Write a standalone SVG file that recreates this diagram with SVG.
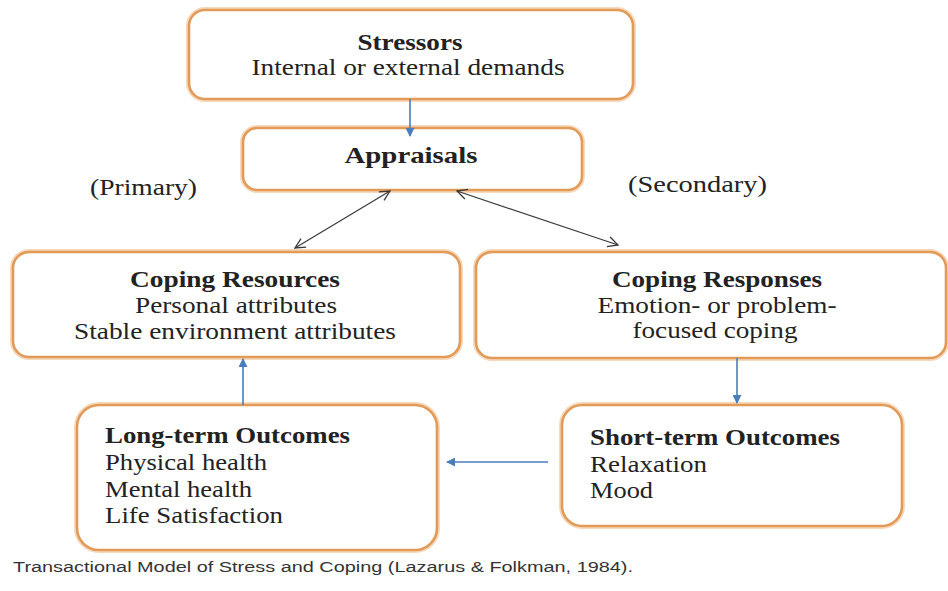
<svg xmlns="http://www.w3.org/2000/svg" width="948" height="591" viewBox="0 0 948 591">
<style>
.box{fill:#fff;stroke:#E39A57;stroke-width:2.6}
.glow{fill:none;stroke:#F6D9BC;stroke-width:6}
.t{font-family:"Liberation Serif","Times New Roman",serif;font-size:23px;fill:#222}
.b{font-weight:bold}
.cap{font-family:"Liberation Sans",Arial,sans-serif;font-size:14px;fill:#333}
.blue{stroke:#4A7EBB;stroke-width:1.6;fill:none}
.dark{stroke:#3a3a3a;stroke-width:1.2;fill:none}
</style>
<defs>
<marker id="bh" viewBox="0 0 10 10" refX="9" refY="5" markerWidth="9" markerHeight="9" markerUnits="userSpaceOnUse" orient="auto">
<path d="M0,0 L10,5 L0,10 z" fill="#4A7EBB"/>
</marker>
<marker id="dh" viewBox="0 0 12 12" refX="11" refY="6" markerWidth="12" markerHeight="12" markerUnits="userSpaceOnUse" orient="auto-start-reverse">
<path d="M1,1 L11,6 L1,11" fill="none" stroke="#3a3a3a" stroke-width="1.3"/>
</marker>
</defs>
<rect width="948" height="591" fill="#fff"/>

<g id="stressors">
<rect class="glow" x="189" y="10" width="444" height="89" rx="16"/>
<rect class="box" x="189" y="10" width="444" height="89" rx="16"/>
<text class="t b" x="410" y="50" text-anchor="middle" textLength="105" lengthAdjust="spacingAndGlyphs">Stressors</text>
<text class="t" x="408" y="75" text-anchor="middle" textLength="313" lengthAdjust="spacingAndGlyphs">Internal or external demands</text>
</g>

<g id="appraisals">
<rect class="glow" x="243" y="128" width="339" height="62" rx="14"/>
<rect class="box" x="243" y="128" width="339" height="62" rx="14"/>
<text class="t b" x="411" y="163" text-anchor="middle" textLength="133" lengthAdjust="spacingAndGlyphs">Appraisals</text>
</g>

<g id="primary-label">
<text class="t" x="90" y="195" textLength="107" lengthAdjust="spacingAndGlyphs" fill="#333">(Primary)</text>
</g>
<g id="secondary-label">
<text class="t" x="628" y="192" textLength="139" lengthAdjust="spacingAndGlyphs" fill="#333">(Secondary)</text>
</g>

<g id="coping-resources">
<rect class="glow" x="13" y="252" width="447" height="105" rx="16"/>
<rect class="box" x="13" y="252" width="447" height="105" rx="16"/>
<text class="t b" x="235" y="287" text-anchor="middle" textLength="210" lengthAdjust="spacingAndGlyphs">Coping Resources</text>
<text class="t" x="236" y="313" text-anchor="middle" textLength="202" lengthAdjust="spacingAndGlyphs">Personal attributes</text>
<text class="t" x="235" y="339" text-anchor="middle" textLength="322" lengthAdjust="spacingAndGlyphs">Stable environment attributes</text>
</g>

<g id="coping-responses">
<rect class="glow" x="476" y="252" width="470" height="106" rx="16"/>
<rect class="box" x="476" y="252" width="470" height="106" rx="16"/>
<text class="t b" x="717" y="287" text-anchor="middle" textLength="210" lengthAdjust="spacingAndGlyphs">Coping Responses</text>
<text class="t" x="717" y="313" text-anchor="middle" textLength="239" lengthAdjust="spacingAndGlyphs">Emotion- or problem-</text>
<text class="t" x="715" y="338" text-anchor="middle" textLength="165" lengthAdjust="spacingAndGlyphs">focused coping</text>
</g>

<g id="long-term-outcomes">
<rect class="glow" x="77" y="405" width="360" height="145" rx="22"/>
<rect class="box" x="77" y="405" width="360" height="145" rx="22"/>
<text class="t b" x="105" y="443" textLength="245" lengthAdjust="spacingAndGlyphs">Long-term Outcomes</text>
<text class="t" x="105" y="470" textLength="162" lengthAdjust="spacingAndGlyphs">Physical health</text>
<text class="t" x="105" y="497" textLength="147" lengthAdjust="spacingAndGlyphs">Mental health</text>
<text class="t" x="105" y="523" textLength="178" lengthAdjust="spacingAndGlyphs">Life Satisfaction</text>
</g>

<g id="short-term-outcomes">
<rect class="glow" x="562" y="405" width="340" height="121" rx="20"/>
<rect class="box" x="562" y="405" width="340" height="121" rx="20"/>
<text class="t b" x="590" y="445" textLength="250" lengthAdjust="spacingAndGlyphs">Short-term Outcomes</text>
<text class="t" x="590" y="472" textLength="117" lengthAdjust="spacingAndGlyphs">Relaxation</text>
<text class="t" x="590" y="498" textLength="63" lengthAdjust="spacingAndGlyphs">Mood</text>
</g>

<g id="connectors">
<line class="blue" x1="410" y1="99" x2="410" y2="136" marker-end="url(#bh)"/>
<line class="dark" x1="295" y1="248" x2="390" y2="191" marker-start="url(#dh)" marker-end="url(#dh)"/>
<line class="dark" x1="457" y1="191" x2="618" y2="245" marker-start="url(#dh)" marker-end="url(#dh)"/>
<line class="blue" x1="737" y1="358" x2="737" y2="403" marker-end="url(#bh)"/>
<line class="blue" x1="548" y1="462" x2="447" y2="462" marker-end="url(#bh)"/>
<line class="blue" x1="243" y1="405" x2="243" y2="359" marker-end="url(#bh)"/>
</g>

<g id="caption">
<text class="cap" x="13" y="572" textLength="620" lengthAdjust="spacingAndGlyphs">Transactional Model of Stress and Coping (Lazarus &amp; Folkman, 1984).</text>
</g>
</svg>
